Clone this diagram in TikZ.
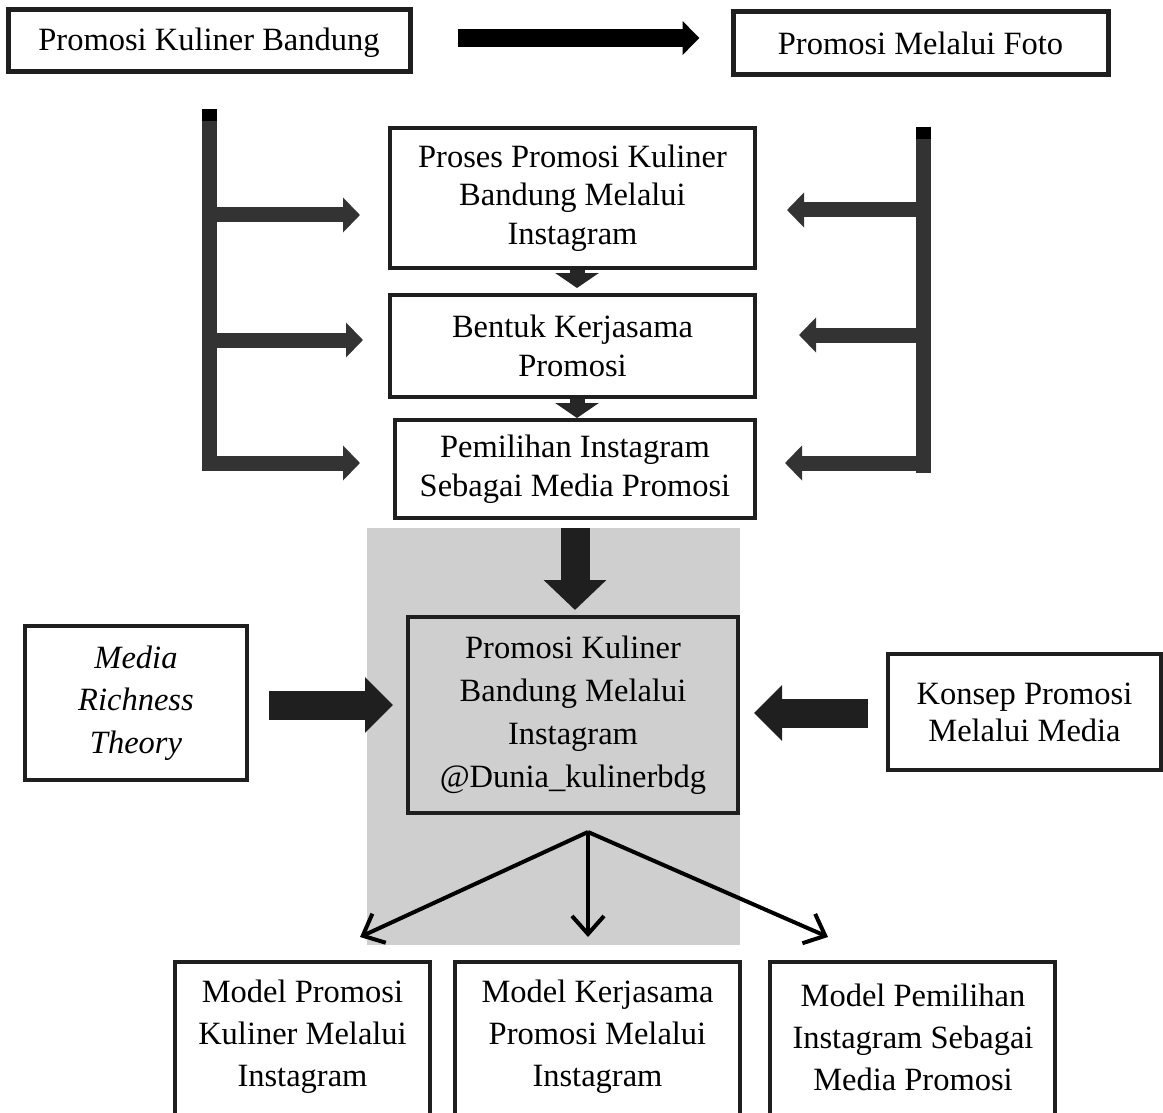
\documentclass[tikz,border=0pt]{standalone}
\usepackage{fontspec}
\setmainfont{Liberation Serif}
\usetikzlibrary{arrows.meta}
\begin{document}
\begin{tikzpicture}[x=1pt,y=-1pt,
  box/.style={draw=black!88, line width=4pt, fill=white, inner sep=0pt, align=center,
    font=\fontsize{32.5}{38.5}\selectfont},
  txt/.style={inner sep=0pt, align=center, font=\fontsize{32.5}{42}\selectfont},
  bigarrow/.style={draw=black!88, line width=29pt,
    -{Triangle[length=28pt 0 0,width=54pt 0 0]}},
  toparrow/.style={draw=black, line width=18pt,
    -{Triangle[length=17pt 0 0,width=33pt 0 0]}},
  brbar/.style={draw=black!80, line width=15pt},
  brarrow/.style={draw=black!80, line width=15pt,
    -{Triangle[length=17pt 0 0,width=34pt 0 0]}},
  smallarrow/.style={draw=black!85, line width=15pt,
    -{Triangle[length=15pt 0 0,width=43pt 0 0]}},
  thinarrow/.style={draw=black, line width=4pt,
    -{Straight Barb[length=18pt 0 0,width=32pt 0 0]}}
]
\clip (0,0) rectangle (1163,1113);
\fill[white] (0,0) rectangle (1163,1113);
% grey background panel
\fill[black!19] (367,528) rectangle (740,945);

% top row
\node[box, line width=5pt, minimum width=402pt, minimum height=62pt] (pkb) at (209,41) {};
\node[txt] (pkbt) at (209,43) {Promosi Kuliner Bandung};
\node[box, line width=5pt, minimum width=375pt, minimum height=63pt] (pmf) at (920.5,43.5) {Promosi Melalui Foto};
\coordinate (ta) at (458,38);
\draw[toparrow] (ta) -- (ta -| pmf.west) [shorten >=31pt];

% central column
\node[box, minimum width=365pt, minimum height=140pt] (b1) at (572.5,198)
  {Proses Promosi Kuliner\\Bandung Melalui\\Instagram};
\node[box, minimum width=365pt, minimum height=102pt] (b2) at (572.5,346)
  {Bentuk Kerjasama\\Promosi};
\node[box, minimum width=360pt, minimum height=98pt] (b3) at (575,469)
  {Pemilihan Instagram\\Sebagai Media Promosi};
\draw[smallarrow, shorten >=5pt] (b1.south -| 577,0) -- (b2.north -| 577,0);
\draw[smallarrow, shorten >=0pt] (b2.south -| 577,0) -- (b3.north -| 577,0);

% left bracket
\coordinate (LT) at (209,109);
\coordinate (LB) at (209,471);
\coordinate (L1) at (209,215);
\coordinate (L2) at (209,340);
\coordinate (L3) at (209,463);
\draw[brbar] (LT) -- (LB);
\draw[draw=black, line width=15pt] (209,109) -- (209,121);
\draw[brarrow, shorten >=28pt] (L1) -- (L1 -| b1.west);
\draw[brarrow, shorten >=25pt] (L2) -- (L2 -| b2.west);
\draw[brarrow, shorten >=33pt] (L3) -- (L3 -| b3.west);

% right bracket
\coordinate (RT) at (923,127);
\coordinate (RB) at (923,473);
\coordinate (R1) at (923,210);
\coordinate (R2) at (923,335);
\coordinate (R3) at (923,463);
\draw[brbar] (RT) -- (RB);
\draw[draw=black, line width=15pt] (923,127) -- (923,139);
\draw[brarrow, shorten >=30pt] (R1) -- (R1 -| b1.east);
\draw[brarrow, shorten >=42pt] (R2) -- (R2 -| b2.east);
\draw[brarrow, shorten >=28pt] (R3) -- (R3 -| b3.east);

% main box
\node[box, fill=none, minimum width=330pt, minimum height=196pt, font=\fontsize{32.5}{43}\selectfont] (c) at (573,715)
  {Promosi Kuliner\\Bandung Melalui\\Instagram\\@Dunia\_kulinerbdg};
\draw[bigarrow, -{Triangle[length=30pt 0 0,width=61pt 0 0]}] (b3.south -| 575,0) -- (c.north -| 575,0) [shorten <=8pt, shorten >=5pt];

% side boxes
\node[box, minimum width=222pt, minimum height=154pt, font=\fontsize{32.5}{42.5}\selectfont\itshape] (mrt) at (136,703)
  {Media\\Richness\\Theory};
\node[box, minimum width=273pt, minimum height=116pt, font=\fontsize{32.5}{37}\selectfont] (kpm) at (1024.5,712)
  {Konsep Promosi\\Melalui Media};
\draw[bigarrow] (mrt.east |- 0,705) -- (c.west |- 0,705) [shorten <=20pt, shorten >=13pt];
\draw[bigarrow] (kpm.west |- 0,713) -- (c.east |- 0,713) [shorten <=18pt, shorten >=14pt];

% bottom boxes
\node[box, minimum width=255pt, minimum height=170pt] (m1) at (302.5,1047) {};
\node[box, minimum width=285pt, minimum height=170pt] (m2) at (597.5,1047) {};
\node[box, minimum width=285pt, minimum height=170pt] (m3) at (912.5,1047) {};
\node[txt] (m1t) at (302.5,1037) {Model Promosi\\Kuliner Melalui\\Instagram};
\node[txt] (m2t) at (597.5,1037) {Model Kerjasama\\Promosi Melalui\\Instagram};
\node[txt] (m3t) at (913,1037) {Model Pemilihan\\Instagram Sebagai\\Media Promosi};

% branching arrows
\coordinate (apex) at (588,832);
\coordinate (t1) at (360,937);
\coordinate (t2) at (588,937);
\coordinate (t3) at (828,937);
\draw[thinarrow] (apex) -- (t1);
\draw[thinarrow] (apex) -- (t2);
\draw[thinarrow] (apex) -- (t3);
\end{tikzpicture}
\end{document}
